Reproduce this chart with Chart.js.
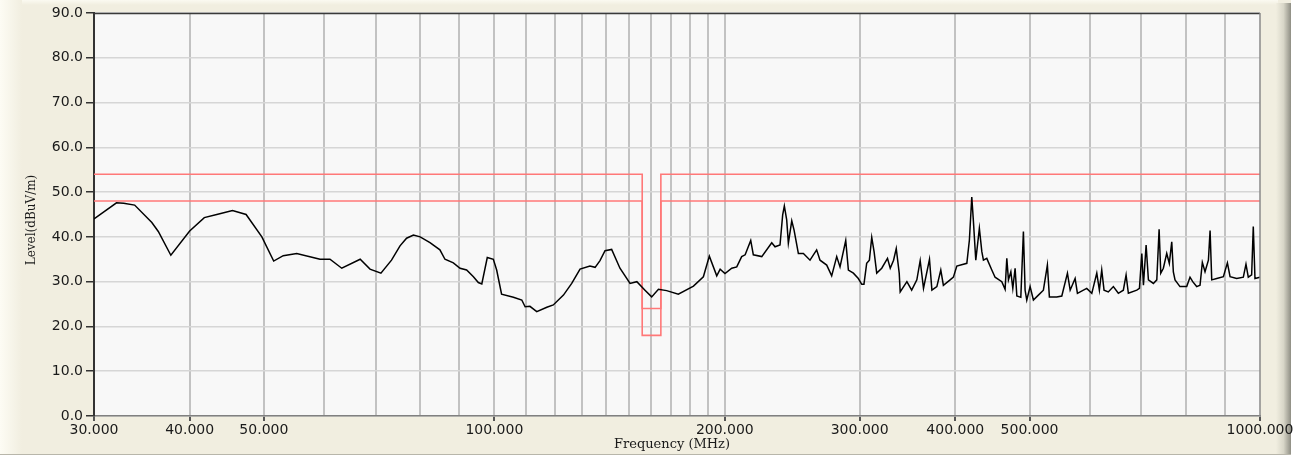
<!DOCTYPE html>
<html>
<head>
<meta charset="utf-8">
<script src="https://cdn.jsdelivr.net/npm/chart.js@4.4.1/dist/chart.umd.min.js"></script>
<style>
  html, body { margin: 0; padding: 0; background: #ffffff; }
  #wrap { width: 1303px; height: 457px; }
</style>
</head>
<body>
<div id="wrap"><canvas id="c" width="1303" height="457"></canvas></div>
<script>
// ---- Data ----
const freqMHz = [30.0,32.1,32.8,33.9,35.7,36.4,37.8,40.0,41.8,43.4,45.5,47.4,49.7,51.5,53.0,55.2,59.2,61.0,63.2,66.8,68.8,71.1,73.4,75.3,76.8,78.4,80.0,82.4,84.9,86.2,88.4,90.2,92.0,93.9,95.3,96.3,97.9,99.7,100.7,102.2,105.9,108.6,109.7,111.3,113.6,117.1,119.4,123.1,126.2,129.4,133.3,135.4,137.4,139.5,142.3,145.9,150.4,153.5,157.3,160.5,163.8,167.9,173.9,182.0,187.5,190.9,195.2,197.2,200.1,204.2,207.3,210.4,212.6,216.2,217.9,223.5,230.3,232.6,236.1,238.0,239.2,240.9,242.1,244.6,246.3,249.5,253.3,258.4,263.6,266.3,271.7,275.8,280.0,282.8,287.7,290.0,294.4,298.8,301.9,303.9,306.4,308.9,311.1,313.3,315.8,320.6,326.2,328.9,332.2,334.9,337.9,338.9,345.8,350.8,356.3,359.9,363.5,370.1,372.8,378.4,382.9,385.9,393.8,397.7,401.8,414.1,417.3,420.3,422.4,425.4,430.0,433.2,435.3,439.7,446.4,450.8,460.0,464.6,467.0,469.3,472.7,475.5,478.8,481.3,487.1,490.9,493.4,495.9,500.9,505.9,513.5,521.3,527.6,530.8,542.6,551.0,560.4,565.0,573.5,577.5,588.0,593.9,603.0,612.1,616.9,621.3,625.6,633.7,643.4,653.1,663.0,668.5,673.1,690.4,695.9,700.9,704.3,710.0,714.9,725.7,733.2,738.3,742.0,747.8,755.4,761.3,766.9,770.6,774.5,786.1,802.2,810.2,816.8,826.6,835.0,840.8,847.6,856.3,860.6,864.9,878.0,895.7,906.6,913.9,932.4,951.1,958.7,965.4,975.2,980.0,985.0,1000.0];
const levelDbuV = [44.0,47.6,47.5,47.1,43.2,41.2,35.9,41.3,44.3,45.0,45.9,45.0,40.0,34.6,35.8,36.3,35.0,35.0,33.0,35.0,32.8,31.9,34.8,38.0,39.7,40.4,40.0,38.7,37.1,35.0,34.2,33.0,32.6,31.1,29.8,29.5,35.4,35.0,32.6,27.2,26.5,25.9,24.4,24.5,23.3,24.3,24.8,27.0,29.6,32.8,33.5,33.2,34.7,36.9,37.2,33.0,29.6,30.0,28.1,26.6,28.3,28.0,27.2,29.0,31.1,35.7,31.3,32.8,31.8,33.0,33.3,35.6,36.0,39.2,36.0,35.6,38.7,37.8,38.2,44.9,46.9,43.8,38.6,43.6,41.5,36.3,36.3,34.8,37.1,34.8,33.7,31.3,35.6,33.3,39.2,32.6,31.9,30.7,29.4,29.4,34.1,34.8,39.9,36.7,31.9,33.0,35.2,33.0,34.8,37.4,31.9,27.7,30.0,28.1,30.4,34.7,28.5,35.0,28.1,28.9,32.6,29.2,30.4,31.0,33.5,34.1,39.3,48.9,43.4,34.8,41.9,36.7,34.8,35.2,32.6,31.0,30.0,28.3,35.2,30.4,32.2,28.5,33.0,26.8,26.5,41.2,28.1,25.9,28.9,25.9,27.0,28.1,33.7,26.6,26.6,26.8,31.9,28.1,30.7,27.4,28.1,28.5,27.4,31.9,28.1,32.6,28.1,27.7,28.9,27.4,28.1,31.5,27.4,28.1,28.5,36.3,29.2,38.2,30.4,29.6,30.4,41.7,31.9,33.0,36.3,34.1,38.9,32.2,30.4,28.9,28.9,31.0,30.0,28.9,29.2,34.3,32.2,34.8,41.4,30.4,30.7,31.1,34.2,31.1,30.7,31.0,33.9,31.0,31.5,42.3,30.7,31.0];

const limitFreq = [30, 156, 156, 165, 165, 1000];
const limitUpper = [54, 54, 24, 24, 54, 54];
const limitLower = [48, 48, 18, 18, 48, 48];

const gridFreqs = [30,40,50,60,70,80,90,100,110,120,130,140,150,160,170,180,190,200,300,400,500,600,700,800,900,1000];
const labeledFreqs = [30,40,50,100,200,300,400,500,1000];
const yTicks = [0,10,20,30,40,50,60,70,80,90];

const xTitle = 'Frequency (MHz)';
const yTitle = 'Level(dBuV/m)';

// ---- Build ----
const trace = freqMHz.map((f, i) => ({ x: f, y: levelDbuV[i] }));
const lim1 = limitFreq.map((f, i) => ({ x: f, y: limitUpper[i] }));
const lim2 = limitFreq.map((f, i) => ({ x: f, y: limitLower[i] }));

const BEIGE = '#F1EEE0';
const tickFont = { family: 'DejaVu Sans', size: 14 };

const framePlugin = {
  id: 'frame',
  beforeDraw(chart) {
    const { ctx, width, height, chartArea: a } = chart;
    ctx.save();
    ctx.fillStyle = BEIGE;
    ctx.fillRect(0, 0, width, height);
    let g = ctx.createLinearGradient(0, 0, 22, 0);
    g.addColorStop(0, '#FDFCF4');
    g.addColorStop(1, BEIGE);
    ctx.fillStyle = g;
    ctx.fillRect(0, 0, 22, height);
    g = ctx.createLinearGradient(0, 0, 0, 5);
    g.addColorStop(0, '#FBFAF1');
    g.addColorStop(1, BEIGE);
    ctx.fillStyle = g;
    ctx.fillRect(22, 0, 1256, 5);
    g = ctx.createLinearGradient(1276, 0, 1291, 0);
    g.addColorStop(0, BEIGE);
    g.addColorStop(0.5, '#D8D6C8');
    g.addColorStop(1, '#8F8E84');
    ctx.fillStyle = g;
    ctx.fillRect(1276, 3, 15, height - 3);
    ctx.fillStyle = '#ffffff';
    ctx.fillRect(1291, 0, width - 1291, height);
    ctx.fillStyle = '#B8B6AA';
    ctx.fillRect(0, 454, 1291, 1);
    ctx.fillStyle = '#ffffff';
    ctx.fillRect(0, 455, 1291, 2);
    ctx.fillStyle = '#F8F8F8';
    ctx.fillRect(a.left, a.top, a.right - a.left, a.bottom - a.top);
    ctx.restore();
  },
  afterDraw(chart) {
    const { ctx, chartArea: a } = chart;
    ctx.save();
    ctx.strokeStyle = '#3A3A3A';
    ctx.lineWidth = 1.5;
    ctx.beginPath();
    ctx.moveTo(a.left, a.top + 0.5);
    ctx.lineTo(a.right, a.top + 0.5);
    ctx.stroke();
    ctx.strokeStyle = '#8A8A8A';
    ctx.lineWidth = 1.5;
    ctx.beginPath();
    ctx.moveTo(a.right, a.top);
    ctx.lineTo(a.right, a.bottom);
    ctx.stroke();
    ctx.fillStyle = '#1a1a1a';
    ctx.textAlign = 'center';
    ctx.textBaseline = 'middle';
    ctx.font = '13px "DejaVu Serif"';
    ctx.fillText(xTitle, 672, 445);
    ctx.translate(32, 220);
    ctx.rotate(-Math.PI / 2);
    ctx.font = '12px "DejaVu Serif"';
    ctx.fillText(yTitle, 0, 0);
    ctx.restore();
  }
};

new Chart(document.getElementById('c'), {
  type: 'scatter',
  data: {
    datasets: [
      { label: 'trace', data: trace, showLine: true, borderColor: '#000000', borderWidth: 1.5,
        pointRadius: 0, tension: 0, order: 1 },
      { label: 'limit1', data: lim1, showLine: true, borderColor: '#FF7878', borderWidth: 1.6,
        pointRadius: 0, tension: 0, order: 2 },
      { label: 'limit2', data: lim2, showLine: true, borderColor: '#FF7878', borderWidth: 1.6,
        pointRadius: 0, tension: 0, order: 2 }
    ]
  },
  options: {
    responsive: false,
    devicePixelRatio: 1,
    animation: false,
    layout: { padding: { left: 20, top: 13, right: 43, bottom: 0 } },
    plugins: { legend: { display: false }, tooltip: { enabled: false } },
    scales: {
      x: {
        type: 'logarithmic',
        position: 'bottom',
        min: 30, max: 1000,
        afterBuildTicks: (s) => { s.ticks = gridFreqs.map(v => ({ value: v })); },
        afterFit: (s) => { s.height = 41; },
        ticks: {
          autoSkip: false, maxRotation: 0, minRotation: 0, padding: 1,
          font: tickFont, color: '#1a1a1a',
          callback: (v) => labeledFreqs.includes(v) ? Number(v).toFixed(3) : ''
        },
        grid: {
          color: (c) => (c.tick && (c.tick.value === 30 || c.tick.value === 1000)) ? 'rgba(0,0,0,0)' : '#C2C2C2',
          lineWidth: 2,
          tickLength: 5,
          tickColor: (c) => (c.tick && labeledFreqs.includes(c.tick.value)) ? '#555555' : 'rgba(0,0,0,0)'
        },
        border: { color: '#808080', width: 1.5 }
      },
      y: {
        min: 0, max: 90,
        afterBuildTicks: (s) => { s.ticks = yTicks.map(v => ({ value: v })); },
        afterFit: (s) => { s.width = 74; },
        ticks: {
          padding: 3, font: tickFont, color: '#1a1a1a',
          callback: (v) => Number(v).toFixed(1)
        },
        grid: { color: '#D6D6D6', lineWidth: 1.5, tickLength: 8, tickColor: '#333333' },
        border: { color: '#333333', width: 2 }
      }
    }
  },
  plugins: [framePlugin]
});
</script>
</body>
</html>
